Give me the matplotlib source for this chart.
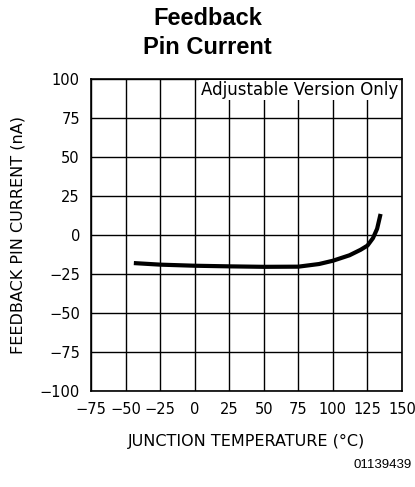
import matplotlib.pyplot as plt
import numpy as np

plt.rcParams['font.family'] = ['DejaVu Sans']

# junction temperature (C) vs feedback pin current (nA)
temp = [-44, -25, 0, 25, 50, 75, 90, 100, 112, 120, 125, 129, 132, 134.5]
current = [-18.0, -19.0, -19.7, -20.1, -20.4, -20.3, -18.6, -16.5, -13.0, -9.5, -6.8, -2.0, 4.0, 13.5]

xticks = [-75, -50, -25, 0, 25, 50, 75, 100, 125, 150]
yticks = [-100, -75, -50, -25, 0, 25, 50, 75, 100]

fig = plt.figure(figsize=(4.15, 4.87), dpi=100)
ax = fig.add_axes([91 / 415, 1 - 391 / 487, 311 / 415, 312 / 487])

ax.plot(temp, current, color='black', lw=3, solid_capstyle='butt')

ax.set_xlim(-75, 150)
ax.set_ylim(-100, 100)
ax.set_xticks(xticks)
ax.set_yticks(yticks)
ax.set_xticklabels([str(t).replace('-', '\u2212') for t in xticks])
ax.set_yticklabels([str(t).replace('-', '\u2212') for t in yticks])
ax.tick_params(length=0, labelsize=10.5, pad=8)
ax.grid(True, color='black', lw=1)
for s in ax.spines.values():
    s.set_linewidth(1.2)

ax.text(147, 93, 'Adjustable Version Only', ha='right', va='center', fontsize=12,
        bbox=dict(facecolor='white', edgecolor='none', pad=1))

ax.set_xlabel('JUNCTION TEMPERATURE (\u00b0C)', fontsize=11.5, labelpad=12)
ax.set_ylabel('FEEDBACK PIN CURRENT (nA)', fontsize=11.5, labelpad=10)

fig.text(0.5, 1 - 33 / 487, 'Feedback\nPin Current', ha='center', va='center',
         fontsize=17, fontweight='bold', family='Liberation Sans', linespacing=1.3)
fig.text(412 / 415, 1 - 465 / 487, '01139439', ha='right', va='center', fontsize=9.5,
         family='Liberation Sans')

fig.savefig('out.png', dpi=100)
